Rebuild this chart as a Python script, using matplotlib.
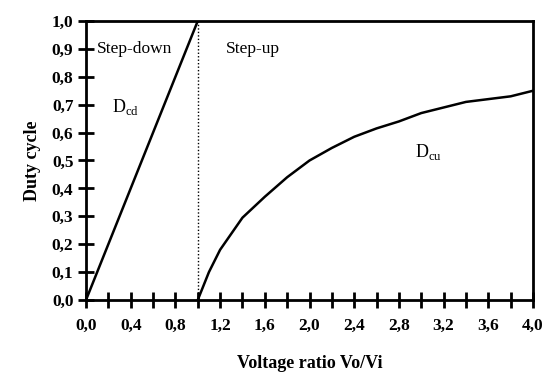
import numpy as np
import matplotlib.pyplot as plt
from matplotlib.ticker import MultipleLocator, FuncFormatter

# Buck (step-down) and boost (step-up) duty cycle vs voltage ratio
ratio_down = [0.0, 1.0]
duty_down = [0.0, 1.0]

ratio_up = [1.0, 1.1, 1.2, 1.4, 1.6, 1.8, 2.0, 2.2, 2.4, 2.6, 2.8, 3.0, 3.2, 3.4, 3.6, 3.8, 4.0]
duty_up = [0.0, 0.10, 0.18, 0.295, 0.37, 0.44, 0.50, 0.545, 0.585, 0.615, 0.64, 0.67, 0.69, 0.71, 0.72, 0.73, 0.75]

plt.rcParams['font.family'] = 'Liberation Serif'
plt.rcParams['mathtext.fontset'] = 'custom'
plt.rcParams['mathtext.rm'] = 'Liberation Serif'

fig = plt.figure(figsize=(5.45, 3.74), dpi=100)
ax = fig.add_axes([86/545, 1 - 300/374, (533-86)/545, (300-21)/374])

ax.plot(ratio_down, duty_down, color='black', lw=1.8)
ax.plot(ratio_up, duty_up, color='black', lw=1.8)
ax.axvline(1.0, color='black', lw=1.0, linestyle=(0, (1, 1.5)))

ax.set_xlim(0, 4.0)
ax.set_ylim(0, 1.0)

comma = FuncFormatter(lambda v, p: f'{v:.1f}'.replace('.', ','))
ax.xaxis.set_major_locator(MultipleLocator(0.4))
ax.xaxis.set_minor_locator(MultipleLocator(0.2))
ax.yaxis.set_major_locator(MultipleLocator(0.1))
ax.xaxis.set_major_formatter(comma)
ax.yaxis.set_major_formatter(comma)

for s in ax.spines.values():
    s.set_linewidth(2.0)

ax.tick_params(axis='both', which='both', direction='inout', width=2.0)
ax.tick_params(axis='x', which='major', length=12, pad=7)
ax.tick_params(axis='x', which='minor', length=12)
ax.tick_params(axis='y', which='major', length=12, pad=3)
for lbl in ax.get_xticklabels() + ax.get_yticklabels():
    lbl.set_fontsize(12.5)
    lbl.set_fontweight('bold')

ax.text(0.1, 0.9, 'Step-down', fontsize=12.5, va='center')
ax.text(1.25, 0.9, 'Step-up', fontsize=12.5, va='center')
ax.text(0.23, 0.69, r'D$_{\mathrm{cd}}$', fontsize=13, va='center')
ax.text(2.94, 0.53, r'D$_{\mathrm{cu}}$', fontsize=13, va='center')

ax.set_xlabel('Voltage ratio Vo/Vi', fontsize=13, fontweight='bold', labelpad=15)
ax.set_ylabel('Duty cycle', fontsize=13, fontweight='bold', labelpad=8)

fig.savefig('out.png', dpi=100)
